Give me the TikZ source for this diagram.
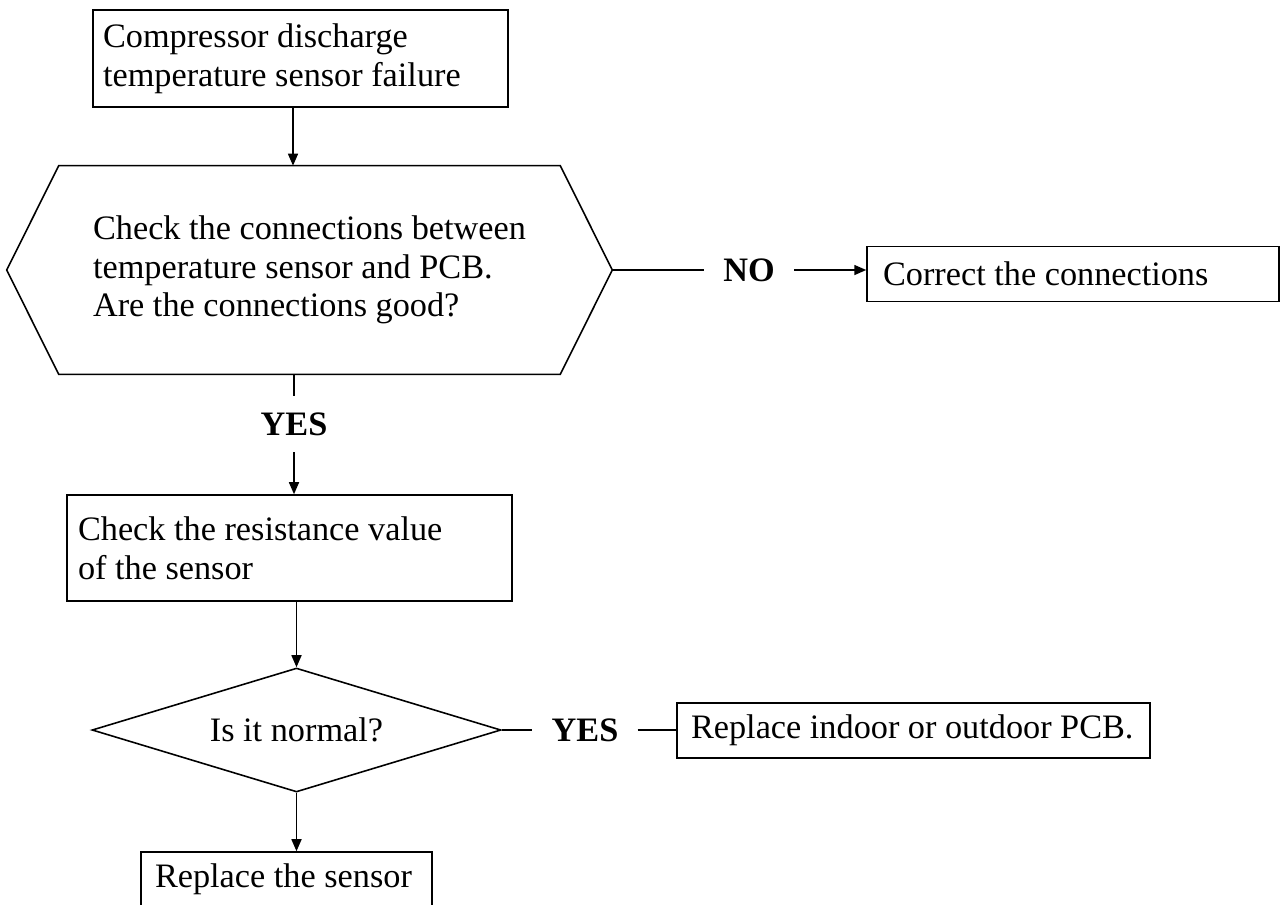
\documentclass[tikz,border=0pt]{standalone}
\usepackage{fontspec}
\setmainfont{Liberation Serif}
\usepackage{tikz}
\usetikzlibrary{calc, arrows.meta, positioning, shapes.geometric}

\newcommand{\flowfont}{\fontsize{19.5}{22}\selectfont}

\tikzset{
  box/.style={draw, line width=0.9pt, align=flush left, inner ysep=0pt},
  decision/.style={diamond, draw, line width=0.9pt, aspect=3.3, inner sep=0pt},
  lbl/.style={font=\flowfont\bfseries, inner xsep=0.38cm, inner ysep=0.33cm},
  line/.style={line width=0.9pt},
  arr/.style={line width=0.9pt, -{Triangle[length=0.24cm, width=0.2cm]}}
}

\begin{document}
\begin{tikzpicture}[x=0.02cm, y=-0.02cm, font=\flowfont]
  \useasboundingbox (0,0) rectangle (1281,904);
  % boxes and decisions
  \node[box, text width=7.9cm, inner xsep=0.2cm, minimum height=1.94cm] (fail) at (300.5,58.5)
    {Compressor discharge\\temperature sensor failure};
  \node[align=left, minimum width=12.1cm, minimum height=4.16cm, inner sep=0pt] (chk) at (309.5,270)
    {Check the connections between\\temperature sensor and PCB.\\Are the connections good?};
  \draw[line] (chk.west) -- ([xshift=1.04cm]chk.north west) -- ([xshift=-1.04cm]chk.north east)
    -- (chk.east) -- ([xshift=-1.04cm]chk.south east) -- ([xshift=1.04cm]chk.south west) -- cycle;
  \node[lbl] (no) at (749,270) {NO};
  \node[box, text width=7.6cm, inner xsep=0.32cm, minimum height=1.1cm] (fix) at (1073,274)
    {Correct the connections};
  \node[lbl] (yes1) at (294,424) {YES};
  \node[box, text width=8.46cm, inner xsep=0.22cm, minimum height=2.12cm] (res) at (289.5,548)
    {Check the resistance value\\of the sensor};
  \node[decision, minimum width=8.18cm, minimum height=2.48cm] (norm) at (296.5,730) {Is it normal?};
  \node[lbl] (yes2) at (585,730) {YES};
  \node[box, text width=8.9cm, inner xsep=0.28cm, minimum height=1.1cm] (pcb) at (913.5,730.5)
    {Replace indoor or outdoor PCB.};
  \node[box, text width=5.26cm, inner xsep=0.28cm, minimum height=1.1cm] (sen) at (286.5,879.5)
    {Replace the sensor};
  % connectors
  \draw[arr] ([xshift=-0.15cm]fail.south) -- ([xshift=-0.15cm]fail.south |- chk.north);
  \draw[line] (chk.east) -- (no.west);
  \draw[arr] (no.east) -- (no.east -| fix.west);
  \draw[line] (chk.south -| yes1) -- (yes1.north);
  \draw[arr] (yes1.south) -- (yes1.south |- res.north);
  \draw[arr] (norm.north |- res.south) -- (norm.north);
  \draw[line] (norm.east) -- (yes2.west);
  \draw[line] (yes2.east) -- (yes2.east -| pcb.west);
  \draw[arr] (norm.south) -- (norm.south |- sen.north);
\end{tikzpicture}
\end{document}
